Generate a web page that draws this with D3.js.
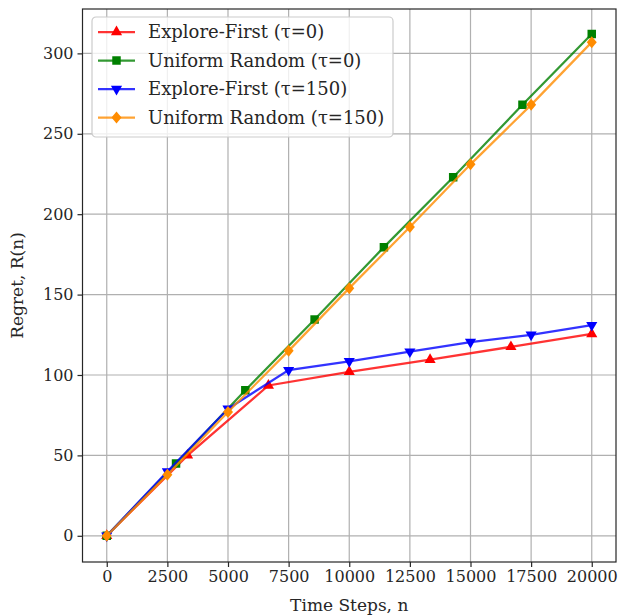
<!DOCTYPE html>
<html lang="en">
	<head>
		<meta charset="utf-8">
		<title>Regret vs time steps</title>
		<script type="text/javascript" src="https://d3js.org/d3.v7.min.js"></script>
		<style type="text/css">
			body { margin: 0; background: #fff; }
			text { font-family: "DejaVu Serif", serif; fill: #262626; }
		</style>
	</head>
	<body>
		<script type="text/javascript">

			// series data
			var efX0 = [0, 3333, 6667, 10000, 13333, 16667, 20000];
			var efY0 = [0, 50, 93.5, 102, 109.5, 117.5, 125.5];

			var urX0 = [0, 2857, 5714, 8571, 11429, 14286, 17143, 20000];
			var urY0 = [0, 45, 90.5, 134.5, 179.5, 223, 268, 312];

			var efX150 = [0, 2500, 5000, 7500, 10000, 12500, 15000, 17500, 20000];
			var efY150 = [0, 40, 79, 103, 108.5, 114.5, 120.5, 125, 131];

			var urX150 = [0, 2500, 5000, 7500, 10000, 12500, 15000, 17500, 20000];
			var urY150 = [0, 38, 77, 115, 154, 192, 231, 268, 307];

			var labels = ["Explore-First (\u03c4=0)", "Uniform Random (\u03c4=0)", "Explore-First (\u03c4=150)", "Uniform Random (\u03c4=150)"];
			var xTicks = [0, 2500, 5000, 7500, 10000, 12500, 15000, 17500, 20000];
			var yTicks = [0, 50, 100, 150, 200, 250, 300];

			//Width and height
			var w = 619;
			var h = 616;
			var margin = {left: 82.5, right: 3, top: 9, bottom: 54};

			var series = [
				{name: labels[0], xs: efX0, ys: efY0, color: "#ff0000", shape: "up"},
				{name: labels[1], xs: urX0, ys: urY0, color: "#008000", shape: "square"},
				{name: labels[2], xs: efX150, ys: efY150, color: "#0000ff", shape: "down"},
				{name: labels[3], xs: urX150, ys: urY150, color: "#ff8c00", shape: "diamond"}
			];

			var xScale = d3.scaleLinear()
				.domain([-1000, 21000])
				.range([margin.left, w - margin.right]);

			var yScale = d3.scaleLinear()
				.domain([-16.3, 327.6])
				.range([h - margin.bottom, margin.top]);

			var svg = d3.select("body")
						.append("svg")
						.attr("width", w)
						.attr("height", h);

			var x0 = margin.left, x1 = w - margin.right;
			var y0 = h - margin.bottom, y1 = margin.top;

			//grid
			svg.append("g").selectAll("line")
				.data(xTicks).enter().append("line")
				.attr("x1", function(d) { return xScale(d); })
				.attr("x2", function(d) { return xScale(d); })
				.attr("y1", y0).attr("y2", y1)
				.attr("stroke", "#b0b0b0").attr("stroke-width", 1.2);
			svg.append("g").selectAll("line")
				.data(yTicks).enter().append("line")
				.attr("y1", function(d) { return yScale(d); })
				.attr("y2", function(d) { return yScale(d); })
				.attr("x1", x0).attr("x2", x1)
				.attr("stroke", "#b0b0b0").attr("stroke-width", 1.2);

			//axes
			var xAxis = d3.axisBottom(xScale).tickValues(xTicks).tickSize(5).tickPadding(4).tickFormat(d3.format("d"));
			var yAxis = d3.axisLeft(yScale).tickValues(yTicks).tickSize(5).tickPadding(4).tickFormat(d3.format("d"));

			var gx = svg.append("g").attr("transform", "translate(0," + y0 + ")").call(xAxis);
			var gy = svg.append("g").attr("transform", "translate(" + x0 + ",0)").call(yAxis);
			[gx, gy].forEach(function(g) {
				g.select(".domain").remove();
				g.selectAll("line").attr("stroke", "#262626").attr("stroke-width", 1.2);
				g.selectAll("text").attr("font-size", "16px").attr("font-family", "DejaVu Serif").attr("fill", "#262626");
			});

			//lines
			var line = d3.line()
				.x(function(d) { return xScale(d[0]); })
				.y(function(d) { return yScale(d[1]); });

			var symbolFor = function(shape) {
				if (shape === "up") return d3.symbol().type(d3.symbolTriangle).size(54)();
				if (shape === "down") return d3.symbol().type(d3.symbolTriangle).size(54)();
				if (shape === "square") return d3.symbol().type(d3.symbolSquare).size(72)();
				return "M0,-6L5,0L0,6L-5,0Z";
			};
			var rot = function(shape) { return shape === "down" ? " rotate(180)" : ""; };

			var clip = svg.append("clipPath").attr("id", "clip")
				.append("rect").attr("x", x0).attr("y", y1).attr("width", x1 - x0).attr("height", y0 - y1);

			var plot = svg.append("g").attr("clip-path", "url(#clip)");

			series.forEach(function(s) {
				var pts = d3.zip(s.xs, s.ys);
				var g = plot.append("g");
				g.append("path")
					.attr("d", line(pts))
					.attr("fill", "none")
					.attr("stroke", s.color)
					.attr("stroke-opacity", 0.8)
					.attr("stroke-width", 2.25);
				g.selectAll("path.m")
					.data(pts).enter().append("path")
					.attr("class", "m")
					.attr("d", symbolFor(s.shape))
					.attr("transform", function(d) {
						return "translate(" + xScale(d[0]) + "," + yScale(d[1]) + ")" + rot(s.shape);
					})
					.attr("fill", s.color);
			});

			//frame
			svg.append("rect")
				.attr("x", x0).attr("y", y1)
				.attr("width", x1 - x0).attr("height", y0 - y1)
				.attr("fill", "none").attr("stroke", "#262626").attr("stroke-width", 1.2);

			//axis labels
			svg.append("text")
				.attr("x", (x0 + x1) / 2).attr("y", 611)
				.attr("text-anchor", "middle")
				.attr("font-size", "17px")
				.text("Time Steps, n");
			svg.append("text")
				.attr("transform", "translate(23," + ((y0 + y1) / 2) + ") rotate(-90)")
				.attr("text-anchor", "middle")
				.attr("font-size", "17px")
				.text("Regret, R(n)");

			//legend
			var leg = svg.append("g").attr("transform", "translate(92,17)");
			leg.append("rect")
				.attr("width", 301).attr("height", 120)
				.attr("rx", 4)
				.attr("fill", "#fff").attr("fill-opacity", 0.8)
				.attr("stroke", "#cccccc").attr("stroke-width", 1.2);
			var rows = leg.selectAll("g.row")
				.data(series).enter().append("g")
				.attr("class", "row")
				.attr("transform", function(d, i) { return "translate(0," + (15 + i * 28.5) + ")"; });
			rows.append("line")
				.attr("x1", 6).attr("x2", 43)
				.attr("stroke", function(d) { return d.color; })
				.attr("stroke-opacity", 0.8)
				.attr("stroke-width", 2.25);
			rows.append("path")
				.attr("d", function(d) { return symbolFor(d.shape); })
				.attr("transform", function(d) { return "translate(24.5,0)" + rot(d.shape); })
				.attr("fill", function(d) { return d.color; });
			rows.append("text")
				.attr("x", 56).attr("y", 6)
				.attr("font-size", "18px")
				.text(function(d) { return d.name; });

		</script>
	</body>
</html>
